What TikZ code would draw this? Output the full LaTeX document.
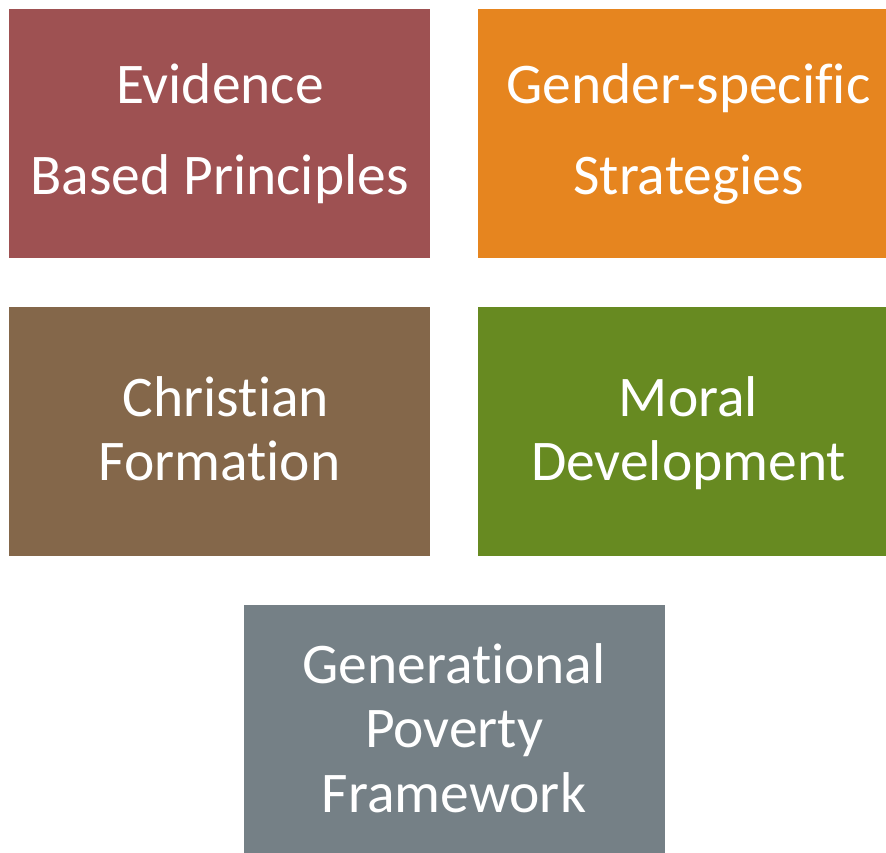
\documentclass[tikz,border=0pt]{standalone}
\usepackage{fontspec}
\setmainfont{Carlito}[Ligatures=NoCommon,RawFeature={-liga;-clig;-dlig}]
\definecolor{cEvid}{HTML}{9E5152}
\definecolor{cGend}{HTML}{E6851F}
\definecolor{cChr}{HTML}{84674A}
\definecolor{cMor}{HTML}{678A21}
\definecolor{cGen}{HTML}{758086}
\begin{document}
\begin{tikzpicture}[x=1pt,y=-1pt,
  boxc/.style={draw=none,inner sep=0pt,outer sep=0pt,minimum width=421pt,minimum height=249.5pt},
  lbl/.style={text=white,inner sep=0pt,anchor=base,font=\fontsize{57.5}{64}\selectfont}]
\useasboundingbox (0,0) rectangle (886,852);
\clip (0,0) rectangle (886,852);
\node[boxc,fill=cEvid] (b1) at (219.5,133.5) {};
\node[boxc,fill=cGend] (b2) at (688.5,133.5) {};
\node[boxc,fill=cChr]  (b3) at (219.5,431.5) {};
\node[boxc,fill=cMor]  (b4) at (688.5,431.5) {};
\node[boxc,fill=cGen]  (b5) at (454,729.5) {};
\node[lbl] (t1a) at (220,103) {Evidence};
\node[lbl] (t1b) at (219.5,194) {Based Principles};
\node[lbl] (t2a) at (688.5,103) {Gender-specific};
\node[lbl] (t2b) at (688.5,194) {Strategies};
\node[lbl] (t3a) at (226,416.5) {Christian};
\node[lbl] (t3b) at (219.5,480) {Formation};
\node[lbl] (t4a) at (688.5,416.5) {Moral};
\node[lbl] (t4b) at (688.5,480) {Development};
\node[lbl] (t5a) at (454,683) {Generational};
\node[lbl] (t5b) at (454,747) {Poverty};
\node[lbl] (t5c) at (454,812) {Framework};
\end{tikzpicture}
\end{document}
